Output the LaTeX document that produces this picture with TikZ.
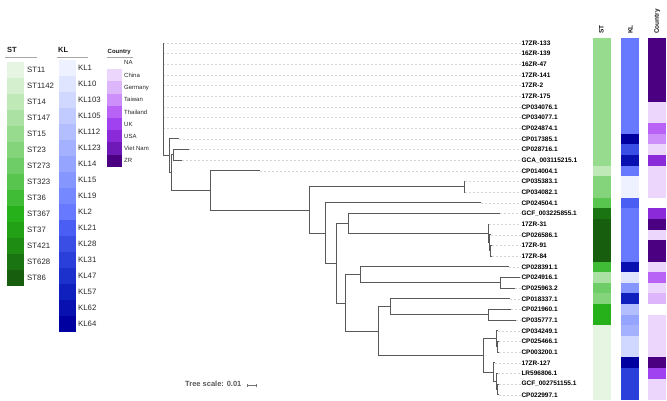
\documentclass[tikz,border=0pt]{standalone}
\usepackage{fontspec}
\setmainfont{Liberation Sans}
\usetikzlibrary{arrows.meta}
% legend / strip colours
\definecolor{st11}{HTML}{E6F5E2}\definecolor{st1142}{HTML}{D3EFCD}
\definecolor{st14}{HTML}{C0E9B8}\definecolor{st147}{HTML}{ABE2A3}
\definecolor{st15}{HTML}{96DB8E}\definecolor{st23}{HTML}{83D47B}
\definecolor{st273}{HTML}{6ECD66}\definecolor{st323}{HTML}{58C54F}
\definecolor{st36}{HTML}{41BC37}\definecolor{st367}{HTML}{26B11A}
\definecolor{st37}{HTML}{22A116}\definecolor{st421}{HTML}{1E8B13}
\definecolor{st628}{HTML}{1A7411}\definecolor{st86}{HTML}{175E0E}
\definecolor{kl1}{HTML}{EEF1FF}\definecolor{kl10}{HTML}{DFE4FF}
\definecolor{kl103}{HTML}{D0D8FF}\definecolor{kl105}{HTML}{C1CBFF}
\definecolor{kl112}{HTML}{B2BEFF}\definecolor{kl123}{HTML}{A3B1FF}
\definecolor{kl14}{HTML}{94A4FF}\definecolor{kl15}{HTML}{8596FF}
\definecolor{kl19}{HTML}{7688FF}\definecolor{kl2}{HTML}{6679FF}
\definecolor{kl21}{HTML}{4A5EF3}\definecolor{kl28}{HTML}{3A4EE6}
\definecolor{kl31}{HTML}{2A3FD9}\definecolor{kl47}{HTML}{1C30CC}
\definecolor{kl57}{HTML}{1020BE}\definecolor{kl62}{HTML}{0811AF}
\definecolor{kl64}{HTML}{0000A0}
\definecolor{coChina}{HTML}{ECD6FB}\definecolor{coGermany}{HTML}{DDB5FA}
\definecolor{coTaiwan}{HTML}{CD90FA}\definecolor{coThailand}{HTML}{B862F6}
\definecolor{coUK}{HTML}{A142F0}\definecolor{coUSA}{HTML}{8A2AD8}
\definecolor{coVietNam}{HTML}{6F19B9}\definecolor{coZR}{HTML}{4B0082}
\tikzset{
  branch/.style   = {draw=black!65, line width=0.9pt},
  ext/.style      = {draw=black!16, line width=0.5pt, dash pattern=on 2pt off 2pt},
  leaflab/.style  = {anchor=west, inner sep=0.3pt, text=black,
                     font=\fontsize{6.5}{7}\selectfont\bfseries},
  legtitle/.style = {anchor=west, inner sep=0pt, text=black!90,
                     font=\fontsize{7.5}{8}\selectfont\bfseries},
  leglab/.style   = {anchor=west, inner sep=0pt, text=black!85,
                     font=\fontsize{7.8}{8}\selectfont},
  colab/.style    = {anchor=west, inner sep=0pt, text=black!85,
                     font=\fontsize{6}{7}\selectfont},
  striphead/.style= {anchor=west, rotate=90, inner sep=0pt, text=black!90,
                     font=\fontsize{6.5}{7}\selectfont\bfseries},
  rule/.style     = {draw=black!35, line width=0.5pt}
}

\begin{document}
\begin{tikzpicture}[x=1pt, y=-1pt]
    \useasboundingbox (0,0) rectangle (667,401);

    % ST legend
    \node[legtitle] (stT) at (7,50) {ST};
    \draw[rule] (5,57) -- (37,57);
    \foreach \lab [count=\k from 0] in {11,1142,14,147,15,23,273,323,36,367,37,421,628,86} {
        \fill[st\lab] (7,61.7+16*\k) rectangle ++(17,16);
        \node[leglab] (st\lab) at (27,69.7+16*\k) {ST\lab};
    }

    % KL legend
    \node[legtitle] (klT) at (58,50) {KL};
    \draw[rule] (56.5,57) -- (87.5,57);
    \foreach \lab [count=\k from 0] in {1,10,103,105,112,123,14,15,19,2,21,28,31,47,57,62,64} {
        \fill[kl\lab] (59,60+16*\k) rectangle ++(16.5,16);
        \node[leglab] (kl\lab) at (78,68+16*\k) {KL\lab};
    }

    % Country legend
    \node[legtitle, font=\fontsize{6}{7}\selectfont\bfseries] (coT) at (107.5,52) {Country};
    \draw[rule] (107,57.3) -- (133,57.3);
    \node[colab] (coNA) at (124,62.7) {NA};
    \foreach \lab/\col [count=\k from 0] in {China/coChina,Germany/coGermany,Taiwan/coTaiwan,
        Thailand/coThailand,UK/coUK,USA/coUSA,Viet Nam/coVietNam,ZR/coZR} {
        \fill[\col] (107.3,69.3+12.2*\k) rectangle ++(14.5,12.2);
        \node[colab] (\col) at (124,75.4+12.2*\k) {\lab};
    }

    % strip headers
    \node[striphead] (hST) at (601.5,34) {ST};
    \node[striphead] (hKL) at (630.3,34) {KL};
    \node[striphead] (hCo) at (657.3,34) {Country};

    % leaves: tip x, label, ST, KL, country
    \foreach \i/\tx/\name/\st/\kl/\co in {
        1/163.3/17ZR-133/st15/kl2/coZR,
        2/163.3/16ZR-139/st15/kl2/coZR,
        3/163.3/16ZR-47/st15/kl2/coZR,
        4/163.3/17ZR-141/st15/kl2/coZR,
        5/163.3/17ZR-2/st15/kl2/coZR,
        6/163.3/17ZR-175/st15/kl2/coZR,
        7/163.3/CP034076.1/st15/kl2/coChina,
        8/163.3/CP034077.1/st15/kl2/coChina,
        9/163.3/CP024874.1/st15/kl2/coThailand,
        10/179.3/CP017385.1/st15/kl64/coTaiwan,
        11/188.7/CP028716.1/st15/kl28/coChina,
        12/181.7/GCA\_003115215.1/st15/kl62/coUSA,
        13/260/CP014004.1/st14/kl2/coChina,
        14/464.5/CP035383.1/st23/kl1/coChina,
        15/464.5/CP034082.1/st23/kl1/coChina,
        16/481/CP024504.1/st323/kl21/white,
        17/500/GCF\_003225855.1/st628/kl2/coUSA,
        18/489/17ZR-31/st86/kl2/coZR,
        19/490.5/CP026586.1/st86/kl2/coChina,
        20/491.5/17ZR-91/st86/kl2/coZR,
        21/491.5/17ZR-84/st86/kl2/coZR,
        22/508.7/CP028391.1/st36/kl62/coChina,
        23/519.5/CP024916.1/st147/kl10/coThailand,
        24/515/CP025963.2/st273/kl15/coChina,
        25/510/CP018337.1/st23/kl57/coGermany,
        26/510.7/CP021960.1/st367/kl112/white,
        27/516/CP035777.1/st367/kl14/coChina,
        28/498/CP034249.1/st11/kl123/coChina,
        29/499/CP025466.1/st11/kl103/coChina,
        30/499/CP003200.1/st11/kl103/coChina,
        31/495/17ZR-127/st11/kl64/coZR,
        32/497.5/LR596806.1/st11/kl31/coUK,
        33/498.5/GCF\_002751155.1/st11/kl31/coChina,
        34/498.5/CP022997.1/st11/kl31/coChina} {
        \pgfmathsetmacro\yy{43+(\i-1)*10.66}
        \coordinate (t\i) at (\tx,\yy);
        \node[leaflab] (l\i) at (521,\yy) {\name};
        \draw[ext] (t\i) -- (l\i.west);
        \fill[\st] (593,\yy-5.35) rectangle (611,\yy+5.35);
        \fill[\kl] (621,\yy-5.35) rectangle (639,\yy+5.35);
        \fill[\co] (648,\yy-5.35) rectangle (666,\yy+5.35);
    }

    % internal nodes
    \coordinate (root)  at (163.3,99.4);
    \coordinate (nA)    at (169.3,155.82);
    \coordinate (nB)    at (171.3,172.7);
    \coordinate (nC)    at (173.3,154.93);
    \coordinate (nD)    at (210,190.46);
    \coordinate (nE)    at (309.3,210);
    \coordinate (nF)    at (464,186.91);
    \coordinate (nG)    at (325.3,233.1);
    \coordinate (n1734) at (336,263.29);
    \coordinate (n1721) at (348,223.56);
    \coordinate (n1821) at (488,233.55);
    \coordinate (n1921) at (489.5,242.88);
    \coordinate (n2021) at (490.5,250.87);
    \coordinate (n2234) at (345.7,303.01);
    \coordinate (n2224) at (360,274.86);
    \coordinate (n2324) at (500,282.85);
    \coordinate (n2534) at (378.3,331.16);
    \coordinate (n2527) at (390,306.84);
    \coordinate (n2627) at (488,314.83);
    \coordinate (n2834) at (483.3,355.48);
    \coordinate (n2830) at (496,338.82);
    \coordinate (n2930) at (497.7,346.81);
    \coordinate (n3134) at (493.3,372.13);
    \coordinate (n3234) at (496,381.46);
    \coordinate (n3334) at (497.3,389.45);

    % branches
    \foreach \k in {1,...,9} \draw[branch] (root) |- (t\k);
    \foreach \p/\c in {root/nA, nA/t10, nA/nB, nB/nC, nB/nD, nC/t11, nC/t12,
        nD/t13, nD/nE, nE/nF, nE/nG, nF/t14, nF/t15, nG/t16, nG/n1734,
        n1734/n1721, n1734/n2234, n1721/t17, n1721/n1821, n1821/t18, n1821/n1921,
        n1921/t19, n1921/n2021, n2021/t20, n2021/t21,
        n2234/n2224, n2234/n2534, n2224/t22, n2224/n2324, n2324/t23, n2324/t24,
        n2534/n2527, n2534/n2834, n2527/t25, n2527/n2627, n2627/t26, n2627/t27,
        n2834/n2830, n2834/n3134, n2830/t28, n2830/n2930, n2930/t29, n2930/t30,
        n3134/t31, n3134/n3234, n3234/t32, n3234/n3334, n3334/t33, n3334/t34}
        \draw[branch] (\p) |- (\c);

    % tree scale
    \node[anchor=west, inner sep=0pt, text=black!65,
          font=\fontsize{7.5}{8}\selectfont\bfseries] (scale) at (185,384.3) {Tree scale: 0.01};
    \draw[black!55, line width=0.5pt, {Bar[width=2.5pt]}-{Bar[width=2.5pt]}]
        ([xshift=5.5pt,yshift=-1pt]scale.east) -- ++(9,0);
\end{tikzpicture}
\end{document}
